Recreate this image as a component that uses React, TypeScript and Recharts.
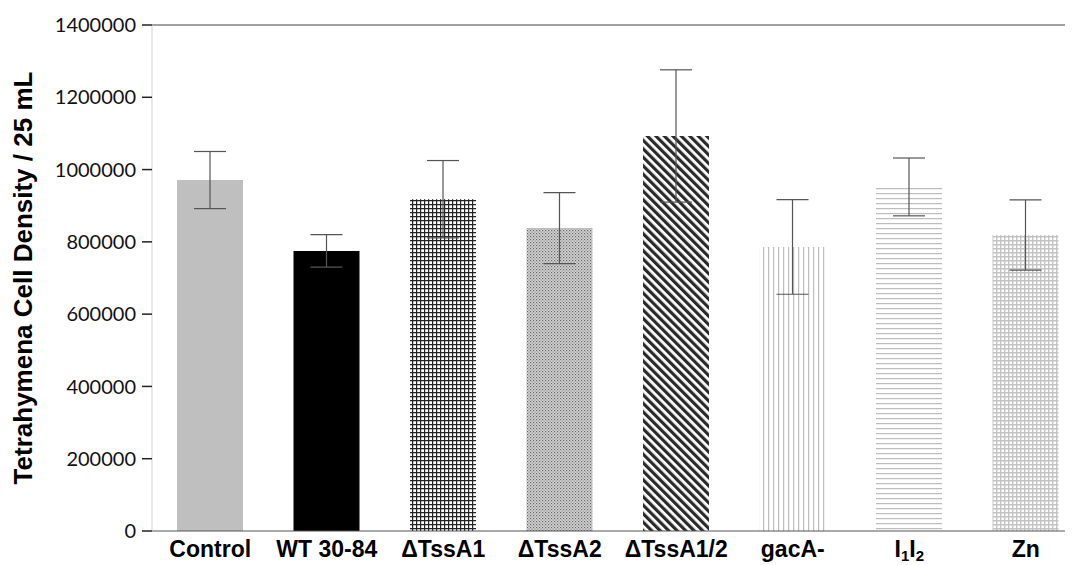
import { BarChart, Bar, XAxis, YAxis, Cell, ErrorBar, ReferenceLine } from "recharts";

const strains = ["Control", "WT 30-84", "ΔTssA1", "ΔTssA2", "ΔTssA1/2", "gacA-", "I1I2", "Zn"];
const meanDensity = [971000, 775000, 918000, 838000, 1093000, 786000, 952000, 819000];
const densityError = [79000, 45000, 107000, 98000, 183000, 131000, 80000, 97000];
const yTicks = [0, 200000, 400000, 600000, 800000, 1000000, 1200000, 1400000];

const PATTERNS = ["#bfbfbf", "#000000", "url(#pGrid)", "url(#pSpeck)", "url(#pDiag)", "url(#pVert)", "url(#pHoriz)", "url(#pDots)"];

const data = strains.map((name, i) => ({ name, mean: meanDensity[i], err: densityError[i] }));

const Patterns = () => (
  <svg width={0} height={0} style={{ position: "absolute" }}>
    <defs>
      <pattern id="pGrid" width={4} height={4} patternUnits="userSpaceOnUse">
        <rect width={4} height={4} fill="#fff" />
        <path d="M0 0.6H4M0.6 0V4" stroke="#222" strokeWidth={1.2} />
      </pattern>
      <pattern id="pSpeck" width={3} height={3} patternUnits="userSpaceOnUse">
        <rect width={3} height={3} fill="#d4d4d4" />
        <rect x={0} y={0} width={1.2} height={1.2} fill="#666" />
        <rect x={1.5} y={1.5} width={1.2} height={1.2} fill="#888" />
      </pattern>
      <pattern id="pDiag" width={6} height={6} patternUnits="userSpaceOnUse" patternTransform="rotate(-45)">
        <rect width={6} height={6} fill="#fff" />
        <rect x={0} width={3.2} height={6} fill="#2a2a2a" />
      </pattern>
      <pattern id="pVert" width={5} height={5} patternUnits="userSpaceOnUse">
        <rect width={5} height={5} fill="#fff" />
        <rect x={0} width={1.2} height={5} fill="#bdbdbd" />
      </pattern>
      <pattern id="pHoriz" width={5} height={5} patternUnits="userSpaceOnUse">
        <rect width={5} height={5} fill="#fff" />
        <rect y={0} width={5} height={1.2} fill="#bdbdbd" />
      </pattern>
      <pattern id="pDots" width={4} height={4} patternUnits="userSpaceOnUse">
        <rect width={4} height={4} fill="#fff" />
        <path d="M0 0.7H4M0.7 0V4" stroke="#c4c4c4" strokeWidth={1.4} />
      </pattern>
    </defs>
  </svg>
);

const labelFont = { fontFamily: "Liberation Sans, Arial, sans-serif", fontWeight: 700, fill: "#000" };

const StrainTick = ({ x, y, payload }: any) => {
  const v = payload.value as string;
  if (v === "I1I2") {
    return (
      <text x={x} y={y + 18} textAnchor="middle" fontSize={23} {...labelFont}>
        <tspan>I</tspan>
        <tspan fontSize={15} dy={4}>1</tspan>
        <tspan dy={-4}>I</tspan>
        <tspan fontSize={15} dy={4}>2</tspan>
      </text>
    );
  }
  return (
    <text x={x} y={y + 18} textAnchor="middle" fontSize={23} {...labelFont}>
      {v}
    </text>
  );
};

export default function App() {
  return (
    <div style={{ position: "relative", width: 1065, overflow: "hidden" }}>
      <Patterns />
      <BarChart
        width={1076}
        height={557}
        data={data}
        margin={{ top: 17, right: 0, bottom: 0, left: 0 }}
        barCategoryGap="0%"
      >
        <XAxis
          dataKey="name"
          tick={<StrainTick />}
          tickLine={false}
          axisLine={{ stroke: "#555", strokeWidth: 1.2 }}
          height={34}
          interval={0}
        />
        <YAxis
          domain={[0, 1400000]}
          ticks={yTicks}
          width={144}
          tickSize={10}
          tickMargin={6}
          axisLine={{ stroke: "#d0d0d0" }}
          tickLine={{ stroke: "#222", strokeWidth: 1.5 }}
          tick={{ fontFamily: "Lato, sans-serif", fontSize: 20, fill: "#111" }}
          label={{
            value: "Tetrahymena Cell Density / 25 mL",
            angle: -90,
            position: "insideLeft",
            offset: 15,
            style: { textAnchor: "middle", fontSize: 26, ...labelFont },
          }}
        />
        <ReferenceLine y={1400000} stroke="#444" strokeWidth={1.2} />
        <Bar dataKey="mean" barSize={66} isAnimationActive={false}>
          {data.map((d, i) => (
            <Cell key={d.name} fill={PATTERNS[i]} />
          ))}
          <ErrorBar dataKey="err" width={16} stroke="#555" strokeWidth={1.2} />
        </Bar>
      </BarChart>
    </div>
  );
}
